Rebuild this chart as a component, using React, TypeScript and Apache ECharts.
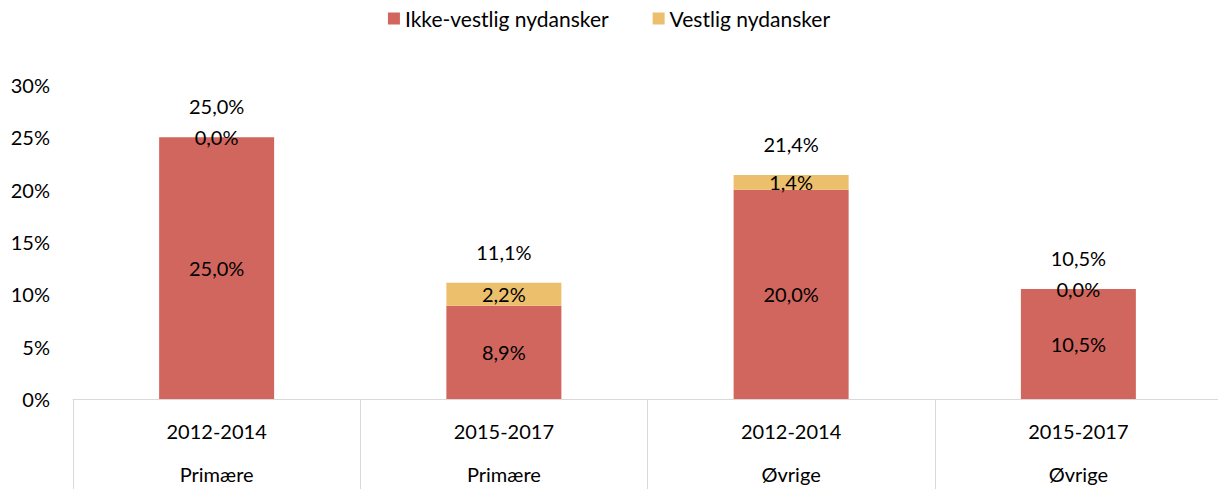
import React, { useEffect, useRef } from "react";
import * as echarts from "echarts";

const periods = ["2012-2014", "2015-2017", "2012-2014", "2015-2017"];
const groups = ["Primære", "Primære", "Øvrige", "Øvrige"];
const ikkeVestlig = [25.0, 8.9, 20.0, 10.5];
const vestlig = [0.0, 2.2, 1.4, 0.0];
const totals = [25.0, 11.1, 21.4, 10.5];
const yTicks = [0, 5, 10, 15, 20, 25, 30];

const FONT = "Lato";
const fmt = (v: number) => v.toFixed(1).replace(".", ",") + "%";

export default function App() {
  const ref = useRef<HTMLDivElement>(null);
  useEffect(() => {
    if (!ref.current) return;
    const chart = echarts.init(ref.current, null, { renderer: "svg" });
    const categories = periods.map((p, i) => p + "\n" + groups[i]);
    chart.setOption({
      animation: false,
      textStyle: { fontFamily: FONT },
      legend: {
        data: ["Ikke-vestlig nydansker", "Vestlig nydansker"],
        top: 3,
        left: "center",
        icon: "rect",
        itemWidth: 12,
        itemHeight: 12,
        itemGap: 44,
        textStyle: { fontFamily: FONT, fontSize: 21, color: "#000" },
      },
      grid: {
        left: 73,
        right: -4,
        top: 85,
        bottom: 90,
        containLabel: false,
        outerBoundsMode: "none",
      },
      xAxis: {
        type: "category",
        data: categories,
        axisLine: { show: true, lineStyle: { color: "#d9d9d9", width: 1 } },
        axisTick: { show: true, length: 92, lineStyle: { color: "#d9d9d9", width: 1 } },
        axisLabel: {
          interval: 0,
          margin: 10,
          fontFamily: FONT,
          fontSize: 20,
          lineHeight: 43,
          color: "#000",
        },
      },
      yAxis: {
        type: "value",
        min: yTicks[0],
        max: yTicks[yTicks.length - 1],
        interval: 5,
        axisLine: { show: false },
        axisTick: { show: false },
        splitLine: { show: false },
        axisLabel: {
          formatter: (v: number) => v + "%",
          margin: 23,
          fontFamily: FONT,
          fontSize: 20,
          color: "#000",
        },
      },
      series: [
        {
          name: "Ikke-vestlig nydansker",
          type: "bar",
          stack: "s",
          barWidth: 115,
          data: ikkeVestlig,
          itemStyle: { color: "#D1665E" },
          label: {
            show: true,
            position: "inside",
            formatter: (p: any) => fmt(p.value),
            fontFamily: FONT,
            fontSize: 20,
            color: "#000",
          },
        },
        {
          name: "Vestlig nydansker",
          type: "bar",
          stack: "s",
          barWidth: 115,
          data: vestlig,
          itemStyle: { color: "#ECBF6C" },
          label: {
            show: true,
            position: "inside",
            formatter: (p: any) => fmt(p.value),
            fontFamily: FONT,
            fontSize: 20,
            color: "#000",
          },
        },
        {
          name: "Total",
          type: "bar",
          barWidth: 115,
          barGap: "-100%",
          data: totals,
          itemStyle: { color: "rgba(0,0,0,0)" },
          silent: true,
          z: 0,
          label: {
            show: true,
            position: "top",
            distance: 21,
            formatter: (p: any) => fmt(p.value),
            fontFamily: FONT,
            fontSize: 20,
            color: "#000",
          },
        },
      ],
    });
    return () => chart.dispose();
  }, []);
  return (
    <div
      ref={ref}
      style={{ position: "fixed", left: 0, top: 0, width: 1218, height: 489, background: "#fff" }}
    />
  );
}
